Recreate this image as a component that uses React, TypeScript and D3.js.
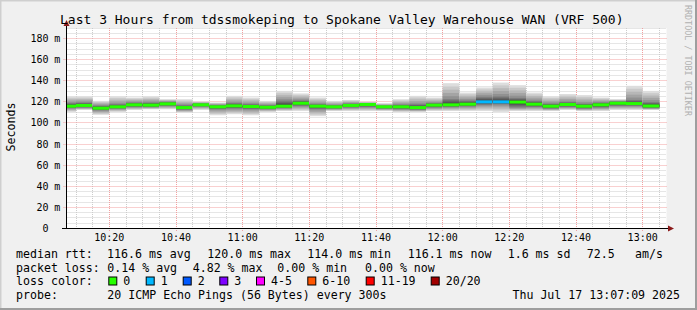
import React from "react";
import * as d3 from "d3";

// ---------- data ----------
const title = "Last 3 Hours from tdssmokeping to Spokane Valley Warehouse WAN (VRF 500)";
const yAxisTitle = "Seconds";
const watermark = "RRDTOOL / TOBI OETIKER";
const yTickValues = [0, 20, 40, 60, 80, 100, 120, 140, 160, 180];
const yUnit = "m";
const xTickLabels = ["10:20", "10:40", "11:00", "11:20", "11:40", "12:00", "12:20", "12:40", "13:00"];
const graphStart = "10:07:09";
const graphEnd = "13:07:09";
const firstBarStart = "10:05:00";
const barMinutes = 5;

const medianRtt = [115.9, 116.6, 114.0, 115.3, 117.2, 116.9, 118.1, 114.6, 117.2, 115.3, 116.2, 115.6, 114.9, 115.9, 118.7, 115.9, 115.3, 116.6, 117.5, 115.3, 115.3, 114.6, 116.9, 117.2, 117.8, 120.0, 120.0, 119.8, 117.8, 115.9, 117.5, 115.9, 117.2, 118.7, 118.4, 116.1];
const minRtt = [110.5, 112.4, 107.7, 110.5, 112.4, 113.0, 113.0, 109.8, 112.4, 107.3, 108.3, 107.3, 110.5, 111.4, 111.4, 106.4, 111.4, 111.4, 111.4, 111.4, 110.5, 110.5, 111.4, 111.4, 111.4, 111.4, 110.5, 111.4, 111.4, 111.4, 112.4, 111.4, 111.4, 112.4, 112.4, 112.4];
const lowQuartile = [114.0, 114.5, 112.0, 113.5, 115.0, 115.0, 116.0, 112.5, 115.5, 113.0, 113.5, 113.0, 113.0, 114.0, 116.0, 113.0, 113.5, 114.5, 115.0, 113.5, 113.0, 112.5, 114.5, 115.0, 115.5, 117.0, 117.5, 114.5, 115.0, 113.5, 115.0, 113.5, 114.5, 116.0, 116.0, 114.0];
const highQuartile = [119.0, 119.5, 116.5, 118.0, 119.5, 119.5, 120.0, 117.0, 118.5, 117.0, 119.0, 118.0, 117.0, 121.5, 121.5, 118.0, 117.0, 118.5, 118.5, 116.5, 117.5, 118.0, 119.0, 123.0, 121.5, 125.0, 125.5, 124.0, 121.0, 118.5, 120.0, 118.5, 119.5, 120.5, 122.0, 120.0];
const maxRtt = [125.1, 125.1, 120.9, 125.1, 124.1, 125.1, 122.5, 122.5, 120.3, 119.4, 125.7, 124.1, 120.9, 130.4, 128.0, 124.1, 120.9, 121.8, 120.0, 118.7, 122.5, 125.7, 124.1, 137.7, 128.8, 133.6, 138.3, 135.8, 128.8, 125.1, 127.4, 126.4, 124.1, 122.5, 135.2, 130.4];
const lossBucket = [0, 0, 0, 0, 0, 0, 0, 0, 0, 0, 0, 0, 0, 0, 0, 0, 0, 0, 0, 0, 0, 0, 0, 0, 0, 1, 1, 0, 0, 0, 0, 0, 0, 0, 0, 0];

const lossColors = ["#26ff00", "#00b8ff", "#0059ff", "#7e00ff", "#ff00ff", "#ff5500", "#ff0000", "#a10000"];
const lossLabels = ["0", "1", "2", "3", "4-5", "6-10", "11-19", "20/20"];

const legendRtt = ["median rtt:", "116.6 ms avg", "120.0 ms max", "114.0 ms min", "116.1 ms now", "1.6 ms sd", "72.5", "am/s"];
const legendLoss = ["packet loss:", "0.14 % avg", "4.82 % max", "0.00 % min", "0.00 % now"];
const legendColorTitle = "loss color:";
const legendProbe = ["probe:", "20 ICMP Echo Pings (56 Bytes) every 300s"];
const timestamp = "Thu Jul 17 13:07:09 2025";

// ---------- layout ----------
const W = 697;
const H = 310;
const PL = 66.5, PR = 666.5, PT = 28, PB = 228.5;
const FONT = "'DejaVu Sans Mono', monospace";
const rttX = [16, 107, 207.3, 307.3, 407.7, 507.7, 586.7, 635];
const lossX = [16, 107.3, 192.7, 277.3, 365];
const swatchX = [108.3, 145.7, 182.7, 219.3, 256, 307.3, 365.7, 430.7];
const rowY = [258.3, 271.8, 285.3, 299];

const toMin = (s: string) => {
  const [h, m, sec] = s.split(":").map(Number);
  return h * 60 + m + (sec || 0) / 60;
};

export default function App() {
  const x = d3.scaleLinear().domain([toMin(graphStart), toMin(graphEnd)]).range([PL, PR]);
  const y = d3.scaleLinear().domain([0, 190]).range([PB, PT]);
  const px = (v: number) => Math.round(v - 0.5) + 0.5;

  const t0 = toMin(firstBarStart);
  const gridTimes = d3.range(Math.ceil(toMin(graphStart) / 5) * 5, toMin(graphEnd), 5);
  const gridVals = d3.range(5, 191, 5);

  // smoke layers (SmokePing style: 10 shades from #ddd to #323232)
  const qAt = (i: number, p: number) => {
    const qs = [minRtt[i], lowQuartile[i], medianRtt[i], highQuartile[i], maxRtt[i]];
    const pos = p * 4;
    const k = Math.min(3, Math.floor(pos));
    const f = pos - k;
    return qs[k] + (qs[k + 1] - qs[k]) * f;
  };
  const layers: JSX.Element[] = [];
  medianRtt.forEach((_, i) => {
    const a = x(t0 + i * barMinutes);
    const b = x(t0 + (i + 1) * barMinutes);
    const x0 = Math.max(a, PL);
    const x1 = Math.min(b, PR);
    if (x1 <= x0) return;
    for (let j = 1; j <= 10; j++) {
      const lo = qAt(i, (j - 1) / 19);
      const hi = qAt(i, (20 - j) / 19);
      const c = Math.floor((190 / 10) * (10 - j)) + 50;
      layers.push(
        <rect key={`s${i}-${j}`} x={x0} y={y(hi)} width={x1 - x0} height={y(lo) - y(hi)} fill={d3.rgb(c, c, c).formatHex()} />
      );
    }
    layers.push(
      <rect key={`m${i}`} x={x0} y={y(medianRtt[i]) - 1.5} width={x1 - x0} height={3} fill={lossColors[lossBucket[i]]} />
    );
  });

  return (
    <svg width={W} height={H} style={{ position: "absolute", left: 0, top: 0, display: "block" }} fontFamily={FONT}>
      <rect x={0} y={0} width={W} height={H} fill="#f0f0f0" />
      <line x1={0} y1={0.5} x2={W} y2={0.5} stroke="#cfcfcf" strokeWidth={2} />
      <line x1={0.5} y1={0} x2={0.5} y2={H} stroke="#cfcfcf" strokeWidth={2} />
      <line x1={0} y1={H - 1} x2={W} y2={H - 1} stroke="#9e9e9e" strokeWidth={2} />
      <line x1={W - 1} y1={0} x2={W - 1} y2={H} stroke="#9e9e9e" strokeWidth={2} />

      <rect x={PL} y={PT} width={PR - PL} height={PB - PT} fill="#ffffff" />

      {/* minor grid */}
      {gridVals.filter(v => v % 20 !== 0).map(v => (
        <line key={`hy${v}`} x1={PL} x2={PR} y1={px(y(v))} y2={px(y(v))} stroke="#cccccc" strokeDasharray="1,1" />
      ))}
      {gridTimes.filter(t => t % 20 !== 0).map(t => (
        <line key={`vx${t}`} x1={px(x(t))} x2={px(x(t))} y1={PT} y2={PB} stroke="#cccccc" strokeDasharray="1,1" />
      ))}
      {/* major grid */}
      {yTickValues.filter(v => v > 0).map(v => (
        <line key={`My${v}`} x1={PL - 3} x2={PR} y1={px(y(v))} y2={px(y(v))} stroke="#f2a0a0" strokeDasharray="1,1" />
      ))}
      {xTickLabels.map(l => {
        const t = toMin(l);
        return <line key={`Mx${l}`} x1={px(x(t))} x2={px(x(t))} y1={PT} y2={PB + 3} stroke="#f2a0a0" strokeDasharray="1,1" />;
      })}

      <g>{layers}</g>

      {/* axes */}
      <line x1={PL} x2={PL} y1={PB} y2={22} stroke="#000000" strokeWidth={1} />
      <line x1={62} x2={669} y1={PB} y2={PB} stroke="#000000" strokeWidth={1} />
      <path d={`M${PL - 3},${26} L${PL + 3},${26} L${PL},${20} Z`} fill="#8b1a1a" />
      <path d={`M${668},${PB - 3} L${668},${PB + 3} L${674},${PB} Z`} fill="#8b1a1a" />

      {/* y labels */}
      {yTickValues.map(v => (
        <g key={`yl${v}`}>
          <text x={48.5} y={px(y(v)) + 3.8} fontSize={10} textAnchor="end" fill="#000">{v}</text>
          {v > 0 && <text x={54.3} y={px(y(v)) + 3.8} fontSize={10} fill="#000">{yUnit}</text>}
        </g>
      ))}
      {/* x labels */}
      {xTickLabels.map(l => (
        <text key={`xl${l}`} x={x(toMin(l))} y={241} fontSize={10} textAnchor="middle" fill="#000">{l}</text>
      ))}

      <text x={60} y={23.5} fontSize={13} fill="#000">{title}</text>
      <text transform="translate(14.5,127) rotate(-90)" fontSize={11.6} textAnchor="middle" fill="#000">{yAxisTitle}</text>
      <text transform="translate(684.5,5) rotate(90)" fontSize={8.4} fill="#b0b0b0">{watermark}</text>

      {/* legend */}
      {legendRtt.map((s, i) => (
        <text key={`r${i}`} x={rttX[i]} y={rowY[0]} fontSize={11.6} fill="#000">{s}</text>
      ))}
      {legendLoss.map((s, i) => (
        <text key={`p${i}`} x={lossX[i]} y={rowY[1]} fontSize={11.6} fill="#000">{s}</text>
      ))}
      <text x={16} y={rowY[2]} fontSize={11.6} fill="#000">{legendColorTitle}</text>
      {lossLabels.map((s, i) => (
        <g key={`c${i}`}>
          <rect x={swatchX[i] + 0.5} y={rowY[2] - 8.3} width={8} height={8} fill={lossColors[i]} stroke="#000" strokeWidth={1} />
          <text x={swatchX[i] + 15} y={rowY[2]} fontSize={11.6} fill="#000">{s}</text>
        </g>
      ))}
      <text x={16} y={rowY[3]} fontSize={11.6} fill="#000">{legendProbe[0]}</text>
      <text x={107.3} y={rowY[3]} fontSize={11.6} fill="#000">{legendProbe[1]}</text>
      <text x={680} y={rowY[3]} fontSize={11.6} textAnchor="end" fill="#000">{timestamp}</text>
    </svg>
  );
}
